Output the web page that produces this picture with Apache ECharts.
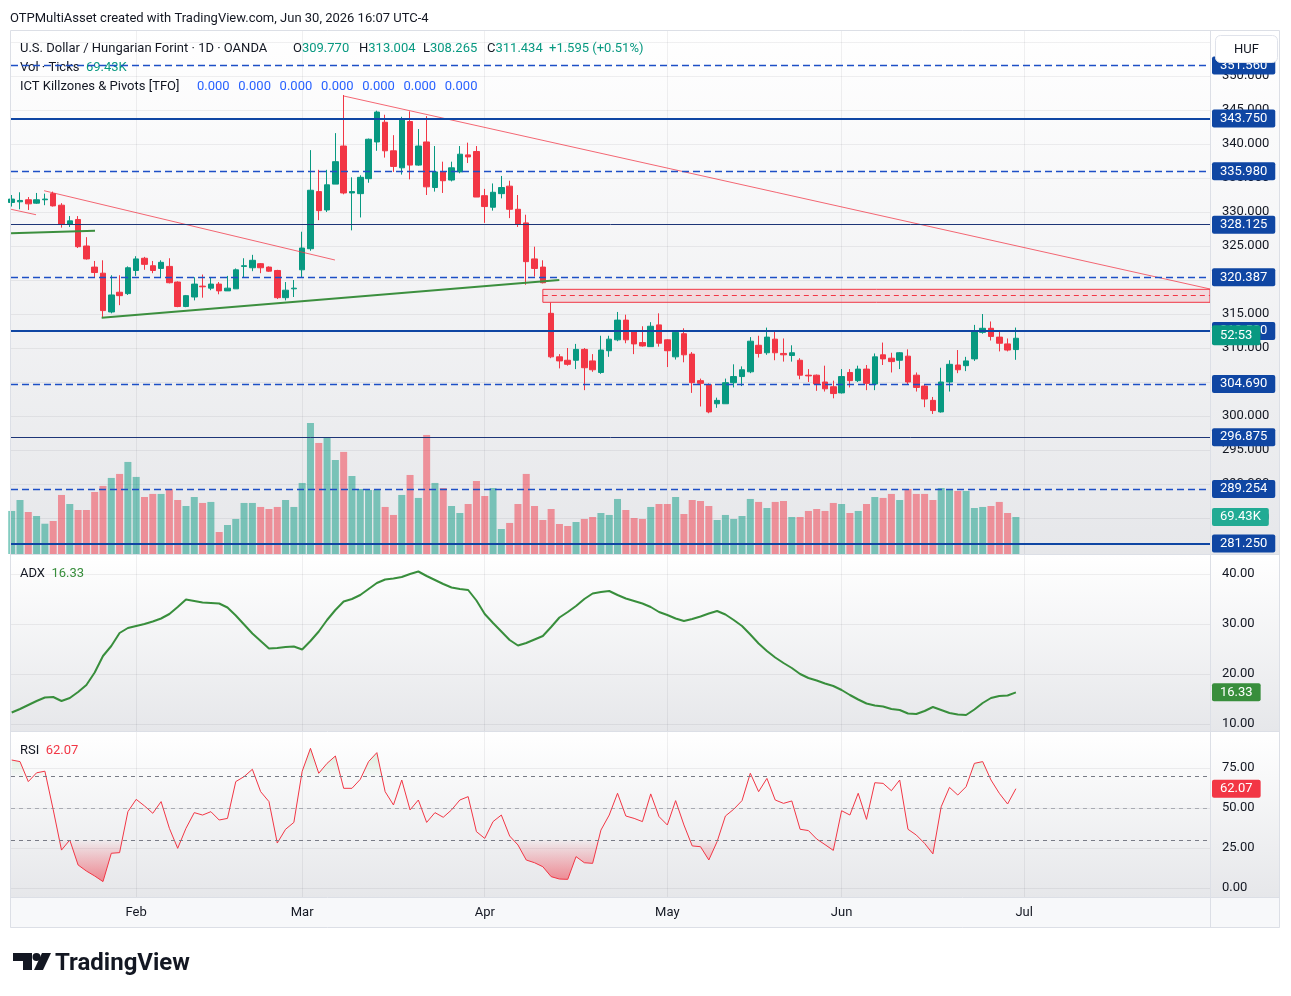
<!DOCTYPE html>
<html><head><meta charset="utf-8">
<script src="https://cdn.jsdelivr.net/npm/echarts@6/dist/echarts.min.js"></script>
<style>html,body{margin:0;padding:0;background:#fff;}#c{width:1291px;height:996px;}</style>
</head><body><div id="c"></div>
<script>
// ---------------- DATA ----------------
// trading-day index 0 = Jan 12 2026 ... 121 = Jun 30 2026 (axis runs to end of July)
const monthIdx = [15, 35, 57, 79, 100, 122];
const monthNames = ['Feb', 'Mar', 'Apr', 'May', 'Jun', 'Jul'];

const openP = [331.4,331.5,331.8,331.3,331.8,332.7,331.0,328.2,328.9,325.0,
321.9,321.0,315.3,318.2,318.0,321.4,323.2,322.1,321.7,322.0,
319.7,316.1,317.5,319.1,318.8,319.4,318.4,318.7,322.0,321.8,
322.4,321.9,321.4,317.4,318.7,321.5,324.6,333.0,330.3,334.1,
339.7,332.8,332.7,334.9,340.3,343.2,339.0,336.5,343.3,336.9,
340.3,333.6,335.9,334.7,335.9,338.4,338.9,332.4,330.7,332.7,
333.8,330.4,328.4,323.1,321.9,315.1,308.7,308.2,308.2,309.8,
308.1,306.4,309.6,311.2,314.1,312.5,310.8,310.2,313.4,311.2,
308.7,312.1,309.1,305.2,304.6,301.8,301.8,304.9,305.8,306.5,
310.4,309.3,311.3,309.2,308.9,308.2,306.0,306.0,305.0,304.3,
303.4,306.4,305.2,306.9,304.7,309.0,308.5,308.2,308.8,306.0,
304.4,302.3,300.6,305.0,307.5,307.4,308.4,312.3,312.9,311.6,
310.6,309.770];
const highP = [332.5,332.9,332.2,332.8,332.7,333.0,331.3,329.4,329.4,326.3,
322.8,322.9,320.7,320.7,322.0,323.5,323.4,322.8,322.9,323.2,
319.8,317.8,320.4,320.8,320.3,319.7,320.6,321.7,323.2,323.7,
322.5,322.0,321.5,319.7,320.0,327.1,339.1,336.2,336.2,341.6,
347.2,335.1,335.4,340.8,344.9,344.3,341.3,344.0,344.8,342.2,
344.1,339.7,337.4,337.4,339.7,340.2,339.7,333.4,334.2,335.3,
334.6,332.5,329.6,324.9,322.9,316.7,309.1,310.0,310.6,310.0,
309.1,311.8,311.8,315.3,314.9,312.6,313.2,313.8,315.1,311.3,
312.6,312.9,309.4,305.5,304.8,302.7,305.5,307.6,307.3,311.6,
311.8,313.0,312.5,311.4,310.4,308.5,306.9,306.1,307.4,305.2,
306.9,306.9,307.4,307.5,309.2,310.8,309.3,309.4,309.8,306.4,
304.6,302.8,307.1,308.2,309.7,308.7,313.4,315.0,313.9,312.6,
311.4,313.004];
const lowP = [330.8,330.4,330.3,331.2,331.0,330.8,327.7,327.8,324.7,323.0,
320.3,314.5,315.1,316.3,317.8,320.6,321.5,321.0,320.3,319.5,
316.0,316.0,317.0,317.4,318.5,317.9,318.4,318.7,320.3,321.3,
321.0,321.2,317.2,317.0,317.5,320.3,324.3,328.8,330.0,334.1,
332.6,327.3,329.2,334.3,339.0,338.0,335.9,335.5,334.8,336.8,
332.5,333.0,332.8,334.5,335.7,337.2,332.2,328.4,330.2,332.0,
329.1,327.8,319.3,320.5,319.5,308.5,307.0,307.4,306.9,303.8,
306.5,306.2,308.7,311.0,310.7,309.1,310.2,310.2,310.2,307.2,
308.3,307.9,303.4,301.4,300.4,301.2,301.8,304.2,304.4,306.3,
308.6,309.0,308.2,308.0,308.0,305.4,305.0,303.7,303.6,302.6,
303.3,304.2,305.0,303.8,303.8,307.5,306.4,306.9,304.7,303.6,
301.3,300.3,300.5,303.6,306.3,306.6,308.1,312.1,311.1,309.5,
309.5,308.265];
const closeP = [331.9,331.7,331.2,331.8,331.9,330.9,328.2,328.7,324.9,323.1,
321.1,315.5,317.8,317.7,321.8,323.1,322.3,321.4,322.6,319.6,
316.1,317.7,319.4,319.0,319.4,318.4,318.8,321.5,322.1,322.9,
321.8,321.3,317.4,318.5,318.8,324.7,333.2,330.2,334.0,337.4,
332.8,333.0,335.1,340.7,344.7,339.0,336.7,343.7,336.9,339.7,
333.7,335.9,334.6,336.5,338.5,338.1,332.2,330.8,332.9,333.6,
330.4,328.2,322.7,321.7,319.6,308.7,308.1,307.6,309.8,307.1,
306.8,309.7,311.3,314.1,311.2,310.6,310.3,313.2,310.7,309.6,
312.3,309.0,304.9,304.8,300.6,302.3,304.9,305.8,306.8,311.0,
309.2,311.6,309.3,309.0,309.3,306.0,305.9,304.7,304.0,303.3,
305.8,305.2,306.9,304.8,308.7,308.4,308.0,309.3,305.0,304.2,
302.5,300.8,305.0,307.6,306.8,308.1,312.4,312.9,311.7,310.7,
309.7,311.434];
// volume, thousands of ticks
const volumeK = [80.7,101.3,78.8,71.3,56.8,61.9,110.7,93.8,82.5,82.5,
116.3,127.6,142.6,150.1,172.6,144.5,106.9,112.6,112.6,121.9,
101.3,90.0,106.9,95.7,97.6,41.3,54.4,65.7,95.7,95.7,
88.2,84.4,88.2,101.3,88.2,133.2,245.8,208.2,217.6,176.3,
191.4,146.3,121.9,120.1,120.1,88.2,73.2,110.7,148.2,105.1,
223.2,133.2,123.8,90.0,76.9,93.8,136.9,108.8,123.8,46.9,
58.2,93.8,150.1,90.0,63.8,84.4,56.3,52.5,60.0,65.7,
69.4,76.9,73.2,103.2,82.5,67.5,65.7,88.2,93.8,93.8,
106.9,75.0,101.3,99.4,90.0,63.8,73.2,65.7,71.3,103.2,
97.6,86.3,97.6,99.4,69.4,69.4,80.7,84.4,80.7,95.7,
93.8,76.9,80.7,93.8,106.9,105.1,112.6,101.3,121.9,112.6,
112.6,101.3,123.8,121.9,118.2,118.2,86.3,88.2,90.0,97.6,
76.9,69.43];
const adxVals = [12.3,13.0,13.8,14.6,15.3,15.4,14.6,15.2,16.4,17.8,
20.3,23.6,25.6,28.2,29.2,29.6,30.0,30.5,31.1,32.0,
33.4,34.9,34.6,34.3,34.2,34.1,33.3,31.7,29.9,28.1,
26.6,25.1,25.2,25.4,25.5,24.9,26.6,28.5,30.8,32.8,
34.5,35.0,35.8,37.0,38.2,38.9,39.1,39.4,40.0,40.5,
39.6,38.8,38.0,37.3,37.0,36.8,34.7,32.0,30.2,28.5,
26.8,25.7,26.2,26.9,27.6,29.4,31.3,32.4,33.6,35.0,
36.1,36.4,36.6,35.8,35.1,34.6,34.1,33.4,32.4,31.8,
31.1,30.6,31.0,31.5,32.1,32.6,31.9,30.8,29.6,27.9,
26.1,24.6,23.3,22.2,21.2,20.0,19.2,18.7,18.1,17.6,
16.8,15.8,14.9,14.1,13.7,13.5,13.0,12.8,12.1,12.0,
12.6,13.4,12.8,12.2,11.9,11.8,12.9,14.2,15.2,15.6,
15.7,16.33];
const rsiVals = [80.0,79.0,66.5,72.0,73.0,49.0,23.7,30.0,14.4,10.6,
7.5,4.0,21.7,22.1,47.7,55.4,51.3,46.7,54.0,37.3,
24.8,37.3,47.1,45.6,47.7,42.5,43.5,66.5,69.6,74.2,
60.2,54.0,28.1,36.7,41.0,72.9,87.3,71.7,77.9,82.5,
62.3,62.3,67.9,79.0,84.6,60.2,51.9,67.5,48.8,55.0,
41.0,47.1,44.2,48.8,55.0,57.1,35.2,31.0,41.5,45.6,
32.5,26.9,17.5,15.8,13.3,7.1,5.6,5.4,19.6,15.8,
15.4,36.2,45.6,59.2,45.0,43.5,41.5,58.8,44.6,39.4,
54.6,39.4,26.3,25.8,17.5,29.0,45.0,49.2,54.6,71.7,
60.2,68.5,55.0,52.9,54.4,36.7,35.9,30.6,27.1,23.5,
48.3,45.6,59.2,42.9,65.8,65.4,60.8,67.5,36.7,33.1,
27.9,21.3,50.8,62.9,58.1,63.3,77.9,79.0,67.5,59.2,
52.5,62.07];

const priceTicks = [285, 290, 295, 300, 305, 310, 315, 320, 325, 330, 335, 340, 345, 350, 355];
const adxTicks = [10, 20, 30, 40];
const rsiTicks = [0, 25, 50, 75];
const rsiBands = [70, 50, 30];

// horizontal levels drawn on the chart
const dashedLevels = [351.560, 335.980, 320.387, 304.690, 289.254];
const solidLevels  = [343.750, 312.500, 281.250];
const thinLevels   = [328.125, 296.875];

// trend lines: [barIndex, price]
const redTrendMain  = [[40, 347.06], [144.39, 318.68]];
const redTrendFeb   = [[3.9, 333.13], [38.95, 322.94]];
const redTrendJan   = [[-0.08, 330.40], [2.93, 329.60]];
const greenTrendJan = [[-0.08, 326.87], [10.04, 327.25]];
const greenTrendMain= [[10.84, 314.46], [65.98, 320.00]];
const fvgStart = 64, fvgTop = 318.63, fvgBottom = 316.72, fvgMid = 317.75;

const lastClose = 311.434, lastVolume = 69.43, lastAdx = 16.33, lastRsi = 62.07;
const countdown = '52:53';

// ---------------- STYLE ----------------
const UP = '#089981', DOWN = '#f23645', BLUE = '#0f46a3', DASHBLUE = '#1d4fc6';
const FONT = 'Roboto, "Noto Sans", sans-serif';
const X_MIN = -0.084, X_MAX = 144.39;

const candleData = closeP.map((c, i) => [i, openP[i], c, lowP[i], highP[i]]);
const volData = volumeK.map((v, i) => ({
  value: [i, v],
  itemStyle: { color: closeP[i] >= openP[i] ? 'rgba(8,153,129,0.5)' : 'rgba(242,54,69,0.5)' }
}));
const adxData = adxVals.map((v, i) => [i, v]);
const rsiData = rsiVals.map((v, i) => [i, v]);

const tagLabel = (text, bg) => ({
  show: true, position: 'end', distance: 2, formatter: text, color: '#fff',
  backgroundColor: bg, padding: [3, 8, 2, 8], fontSize: 13, fontFamily: FONT, borderRadius: 2
});
const seg = (pts, color, width, type) => [
  { coord: pts[0], lineStyle: { color, width, type: type || 'solid' }, label: { show: false } },
  { coord: pts[1] }
];
const RED_TL = 'rgba(242,54,69,0.75)', GREEN_TL = '#3c8f3f';
// one empty helper series per line style, each carrying its own markLine
const levelSeries = (values, lineStyle, z) => ({
  type: 'line', xAxisIndex: 0, yAxisIndex: 0, data: [], silent: true, z, color: lineStyle.color,
  markLine: {
    silent: true, symbol: ['none', 'none'], lineStyle,
    data: values.map(p => ({ yAxis: p, lineStyle, label: tagLabel(p.toFixed(3), BLUE) }))
  }
});

const gridStyle = { color: 'rgba(42,46,57,0.07)', width: 1 };
function xAxisFor(gi, showLabel, showSplit) {
  return {
    gridIndex: gi, type: 'value', min: X_MIN, max: X_MAX,
    axisLine: { show: false },
    axisTick: { show: false, customValues: monthIdx },
    axisLabel: {
      show: showLabel, customValues: monthIdx, margin: 9, color: '#131722', fontSize: 13, fontFamily: FONT,
      formatter: v => monthNames[monthIdx.indexOf(Math.round(v))] || ''
    },
    splitLine: { show: showSplit, lineStyle: gridStyle }
  };
}
function yAxisFor(gi, min, max, ticks, digits, show) {
  return {
    gridIndex: gi, type: 'value', min, max, position: 'right', scale: true,
    axisLine: { show: false },
    axisTick: { show: false, customValues: ticks || undefined },
    axisLabel: {
      show: !!show, customValues: ticks || undefined, margin: 12, color: '#131722', fontSize: 13, fontFamily: FONT,
      formatter: v => v.toFixed(digits)
    },
    splitLine: { show: !!show, lineStyle: gridStyle }
  };
}

const vgrad = (c1, c2) => ({ type: 'linear', x: 0, y: 0, x2: 0, y2: 1, colorStops: [{ offset: 0, color: c1 }, { offset: 1, color: c2 }] });
const txt = (x, y, text, fill, size, weight) => ({
  type: 'text', z: 1, x, y, silent: true,
  style: { text, fill, font: `${weight || 'normal'} ${size || 13}px ${FONT}`, verticalAlign: 'middle' }
});
const rich = (x, y, parts) => ({
  type: 'text', z: 1, x, y, silent: true,
  style: {
    text: parts.map(p => `{${p[1]}|${p[0]}}`).join(''), verticalAlign: 'middle',
    rich: { k: { fill: '#131722', font: `13px ${FONT}` }, g: { fill: UP, font: `13px ${FONT}` },
            r: { fill: DOWN, font: `13px ${FONT}` }, a: { fill: '#388e3c', font: `13px ${FONT}` } }
  }
});
const SEP = '#dcdfe6';
const graphics = [
  { type: 'rect', z: -10, silent: true, shape: { x: 10, y: 30, width: 1270, height: 524 }, style: { fill: vgrad('#ffffff', '#e6e7ea') } },
  { type: 'rect', z: -10, silent: true, shape: { x: 10, y: 555, width: 1270, height: 176 }, style: { fill: vgrad('#ffffff', '#e6e7ea') } },
  { type: 'rect', z: -10, silent: true, shape: { x: 10, y: 732, width: 1270, height: 165 }, style: { fill: vgrad('#ffffff', '#e6e7ea') } },
  { type: 'rect', z: -10, silent: true, shape: { x: 10, y: 897, width: 1270, height: 31 }, style: { fill: '#f7f8fa' } },
  { type: 'rect', z: 50, silent: true, shape: { x: 10.5, y: 30.5, width: 1269, height: 897 }, style: { fill: 'none', stroke: SEP, lineWidth: 1 } },
  { type: 'line', z: 50, silent: true, shape: { x1: 10, y1: 554.5, x2: 1280, y2: 554.5 }, style: { stroke: SEP, lineWidth: 1 } },
  { type: 'line', z: 50, silent: true, shape: { x1: 10, y1: 731.5, x2: 1280, y2: 731.5 }, style: { stroke: SEP, lineWidth: 1 } },
  { type: 'line', z: 50, silent: true, shape: { x1: 10, y1: 897.5, x2: 1280, y2: 897.5 }, style: { stroke: SEP, lineWidth: 1 } },
  { type: 'line', z: 50, silent: true, shape: { x1: 1210.5, y1: 30, x2: 1210.5, y2: 928 }, style: { stroke: SEP, lineWidth: 1 } },
  // top caption
  txt(10, 19, 'OTPMultiAsset created with TradingView.com, Jun 30, 2026 16:07 UTC-4', '#131722', 13),
  // legend rows
  txt(20, 49, 'U.S. Dollar / Hungarian Forint · 1D · OANDA', '#131722', 13),
  rich(293, 49, [['O', 'k'], ['309.770', 'g']]),
  rich(359, 49, [['H', 'k'], ['313.004', 'g']]),
  rich(423, 49, [['L', 'k'], ['308.265', 'g']]),
  rich(487, 49, [['C', 'k'], ['311.434', 'g']]),
  rich(549, 49, [['+1.595 (+0.51%)', 'g']]),
  rich(20, 68, [['Vol · Ticks  ', 'k'], ['69.43K', 'g']]),
  txt(20, 87, 'ICT Killzones & Pivots [TFO]', '#131722', 13),
  rich(20, 574, [['ADX  ', 'k'], ['16.33', 'a']]),
  rich(20, 751, [['RSI  ', 'k'], ['62.07', 'r']]),
  // currency box
  { type: 'rect', z: 100, silent: true, shape: { x: 1215.5, y: 35.5, width: 62, height: 27, r: 5 }, style: { fill: '#ffffff', stroke: '#e0e3eb', lineWidth: 1 } },
  { type: 'text', z: 101, silent: true, x: 1246.5, y: 50, style: { text: 'HUF', fill: '#131722', font: `13px ${FONT}`, align: 'center', verticalAlign: 'middle' } },
  // logo
  { type: 'polygon', z: 1, silent: true, shape: { points: [[13, 953], [32, 953], [32, 970], [23, 970], [23, 961], [13, 961]] }, style: { fill: '#131722' } },
  { type: 'circle', z: 1, silent: true, shape: { cx: 36.5, cy: 957, r: 4 }, style: { fill: '#131722' } },
  { type: 'polygon', z: 1, silent: true, shape: { points: [[42, 953], [51, 953], [43, 970], [34, 970]] }, style: { fill: '#131722' } },
  txt(55, 964, 'TradingView', '#131722', 24, 'bold')
];
for (let k = 0; k < 7; k++) graphics.push(txt(197 + k * 41.3, 87, '0.000', '#2962ff', 13));

const option = {
  animation: false,
  backgroundColor: '#ffffff',
  graphic: graphics,
  grid: [
    { left: 11, top: 30, width: 1199, height: 524 },
    { left: 11, top: 394, width: 1199, height: 160 },
    { left: 11, top: 555, width: 1199, height: 176 },
    { left: 11, top: 732, width: 1199, height: 165 },
    { left: 11, top: 732, width: 1199, height: 44 },
    { left: 11, top: 840, width: 1199, height: 57 }
  ],
  xAxis: [
    xAxisFor(0, false, true), xAxisFor(1, false, false), xAxisFor(2, false, true),
    xAxisFor(3, true, true), xAxisFor(4, false, false), xAxisFor(5, false, false)
  ],
  yAxis: [
    yAxisFor(0, 279.706, 356.765, priceTicks, 3, true),
    yAxisFor(1, 0, 300, null, 0, false),
    yAxisFor(2, 8.6, 43.8, adxTicks, 2, true),
    yAxisFor(3, -5.625, 97.5, rsiTicks, 2, true),
    yAxisFor(4, 70, 97.5, null, 0, false),
    yAxisFor(5, -5.625, 30, null, 0, false)
  ],
  series: [
    {
      name: 'Volume', type: 'bar', xAxisIndex: 1, yAxisIndex: 1, data: volData, barWidth: 7, silent: true,
      markLine: {
        silent: true, symbol: ['none', 'none'],
        data: [{ yAxis: lastVolume, lineStyle: { color: 'transparent', width: 0 }, label: tagLabel('69.43K', '#22ab94') }]
      }
    },
    {
      name: 'USDHUF', type: 'candlestick', xAxisIndex: 0, yAxisIndex: 0, data: candleData,
      encode: { x: 0, y: [1, 2, 3, 4] }, barWidth: 6, silent: true,
      itemStyle: { color: UP, color0: DOWN, borderColor: UP, borderColor0: DOWN, borderWidth: 1 },
      markArea: {
        silent: true,
        itemStyle: { color: 'rgba(242,54,69,0.13)', borderColor: '#f23645', borderWidth: 1 },
        data: [[{ coord: [fvgStart, fvgTop] }, { coord: [X_MAX, fvgBottom] }]]
      },
      markLine: {
        silent: true, symbol: ['none', 'none'],
        data: [
          seg([[fvgStart, fvgMid], [X_MAX, fvgMid]], '#f23645', 1, [5, 4]),
          seg(redTrendMain, RED_TL, 1),
          seg(redTrendFeb, RED_TL, 1),
          seg(redTrendJan, RED_TL, 1),
          seg(greenTrendJan, GREEN_TL, 2),
          seg(greenTrendMain, GREEN_TL, 2)
        ]
      }
    },
    levelSeries(thinLevels, { color: '#1d3577', width: 1, type: 'solid' }, 3),
    levelSeries(dashedLevels, { color: DASHBLUE, width: 1.3, type: [7, 4] }, 3),
    levelSeries(solidLevels, { color: BLUE, width: 2, type: 'solid' }, 3),
    {
      type: 'line', xAxisIndex: 0, yAxisIndex: 0, data: [], silent: true, z: 4,
      markLine: {
        silent: true, symbol: ['none', 'none'],
        data: [{ yAxis: lastClose, lineStyle: { color: 'transparent', width: 0 },
          label: Object.assign(tagLabel(countdown, UP), { offset: [0, -3], padding: [4, 8, 3, 8] }) }]
      }
    },
    {
      name: 'ADX', type: 'line', xAxisIndex: 2, yAxisIndex: 2, data: adxData, symbol: 'none', silent: true,
      lineStyle: { color: '#388e3c', width: 2 },
      markLine: {
        silent: true, symbol: ['none', 'none'],
        data: [{ yAxis: lastAdx, lineStyle: { color: 'transparent', width: 0 }, label: tagLabel('16.33', '#388e3c') }]
      }
    },
    {
      name: 'RSI overbought fill', type: 'line', xAxisIndex: 4, yAxisIndex: 4, data: rsiData, symbol: 'none', silent: true,
      lineStyle: { width: 0, color: 'transparent' },
      areaStyle: { origin: 'start', color: { type: 'linear', x: 0, y: 732, x2: 0, y2: 776, global: true,
        colorStops: [{ offset: 0, color: 'rgba(76,175,80,0.45)' }, { offset: 1, color: 'rgba(76,175,80,0.03)' }] } }
    },
    {
      name: 'RSI oversold fill', type: 'line', xAxisIndex: 5, yAxisIndex: 5, data: rsiData, symbol: 'none', silent: true,
      lineStyle: { width: 0, color: 'transparent' },
      areaStyle: { origin: 'end', color: { type: 'linear', x: 0, y: 840, x2: 0, y2: 888, global: true,
        colorStops: [{ offset: 0, color: 'rgba(242,54,69,0.03)' }, { offset: 1, color: 'rgba(242,54,69,0.9)' }] } }
    },
    {
      name: 'RSI', type: 'line', xAxisIndex: 3, yAxisIndex: 3, data: rsiData, symbol: 'none', silent: true,
      lineStyle: { color: '#f23645', width: 1 },
      markLine: {
        silent: true, symbol: ['none', 'none'],
        data: [
          ...rsiBands.map(b => ({ yAxis: b, label: { show: false },
            lineStyle: { color: b === 50 ? 'rgba(120,123,134,0.55)' : '#787b86', width: 1, type: [4, 4] } })),
          { yAxis: lastRsi, lineStyle: { color: 'transparent', width: 0 }, label: tagLabel('62.07', '#f23645') }
        ]
      }
    }
  ]
};
const chart = echarts.init(document.getElementById('c'), null, { renderer: 'canvas', width: 1291, height: 996 });
chart.setOption(option);
</script>
</body></html>
